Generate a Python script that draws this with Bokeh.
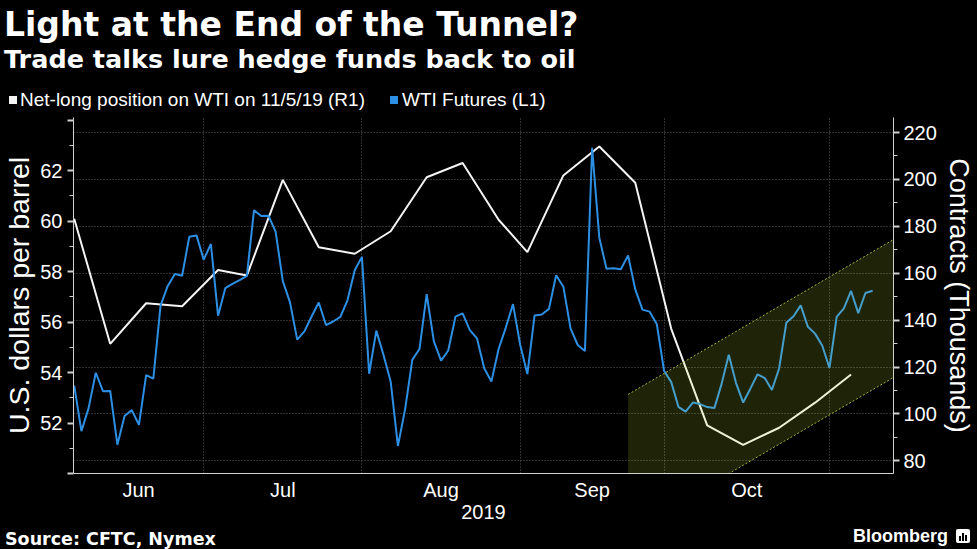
import pandas as pd
from bokeh.plotting import figure
from bokeh.layouts import column
from bokeh.models import Range1d, LinearAxis, FixedTicker, Div
from bokeh.embed import file_html
from bokeh.resources import INLINE

# ---------------- data ----------------
wti_start = "2019-06-04"
wti_end = "2019-11-08"
market_holidays = ["2019-07-04", "2019-09-02"]

# WTI front-month futures, daily close (USD/bbl), one value per trading day
wti_close = [
    53.48, 51.68, 52.59, 53.99, 53.26, 53.27, 51.14, 52.28, 52.51, 51.93,
    53.90, 53.76, 56.65, 57.43, 57.90, 57.83, 59.38, 59.43, 58.47,
    59.09, 56.25, 57.34, 57.51, 57.66, 57.83, 60.43, 60.20, 60.21, 59.58,
    57.62, 56.78, 55.30, 55.63, 56.22, 56.77, 55.88, 56.02, 56.20, 56.87,
    58.05, 58.58,
    53.95, 55.66, 54.69, 53.63, 51.09, 52.54, 54.50, 54.93, 57.10, 55.23,
    54.47, 54.87, 56.21, 56.34, 55.68, 55.35, 54.17, 53.64, 54.93, 55.78,
    56.71, 55.10,
    53.94, 56.26, 56.30, 56.52, 57.85, 57.40, 55.75, 55.09, 54.85, 62.90,
    59.34, 58.11, 58.13, 58.09, 58.64, 57.29, 56.49, 56.41, 55.91, 54.07,
    53.62, 52.64, 52.45, 52.81, 52.75, 52.63, 52.59, 53.55, 54.70, 53.59,
    52.81, 53.36, 53.93, 53.78, 53.31, 54.16, 55.97, 56.23, 56.66, 55.81,
    55.54, 55.06, 54.18,
    56.20, 56.54, 57.23, 56.35, 57.15, 57.24,
]

# CFTC weekly net-long position (thousands of contracts)
cftc_dates = [
    "2019-06-04", "2019-06-11", "2019-06-18", "2019-06-25", "2019-07-02",
    "2019-07-09", "2019-07-16", "2019-07-23", "2019-07-30", "2019-08-06",
    "2019-08-13", "2019-08-20", "2019-08-27", "2019-09-03", "2019-09-10",
    "2019-09-17", "2019-09-24", "2019-10-01", "2019-10-08", "2019-10-15",
    "2019-10-22", "2019-10-29", "2019-11-05",
]
net_long_k = [
    183.2, 129.9, 147.2, 145.9, 161.4, 159.0, 199.8, 171.1, 168.3, 177.9,
    200.9, 207.0, 182.8, 169.0, 201.7, 214.0, 198.6, 136.3, 95.1, 86.8,
    94.1, 104.8, 116.8,
]

month_names = ["Jun", "Jul", "Aug", "Sep", "Oct"]
usd_ticks = [50, 52, 54, 56, 58, 60, 62, 64]
usd_minor = [51, 53, 55, 57, 59, 61, 63]
contract_ticks = [80, 100, 120, 140, 160, 180, 200, 220]
contract_minor = [90, 110, 130, 150, 170, 190, 210]

# highlighted up-trend channel (trading-day index, thousands of contracts)
channel_x = [77, 116]
channel_lower = [49.5, 119.3]
channel_upper = [108.3, 178.1]

title_text = "Light at the End of the Tunnel?"
subtitle_text = "Trade talks lure hedge funds back to oil"
legend_texts = ["Net-long position on WTI on 11/5/19 (R1)", "WTI Futures (L1)"]
source_text = "Source: CFTC, Nymex"
brand_text = "Bloomberg"

# ---------------- derived positions ----------------
days = [d for d in pd.bdate_range(wti_start, wti_end)
        if d.strftime("%Y-%m-%d") not in market_holidays]
pos = {d.strftime("%Y-%m-%d"): i for i, d in enumerate(days)}
wti_x = list(range(len(wti_close)))
cftc_x = [pos[d] for d in cftc_dates]
month_end = [i for i in range(len(days) - 1) if days[i].month != days[i + 1].month]

X0, X1 = -0.1, 113.9
bounds = [X0] + month_end
month_centers = [(bounds[i] + bounds[i + 1]) / 2 for i in range(len(month_names))]

W, H = 977, 549
HEAD_H = 117
FOOT_H = 22
MAIN_H = H - HEAD_H - FOOT_H
FRAME_BOTTOM = 473

WHITE = "#f4f4f4"
BLUE = "#2d8fe3"
AX_COL = "#d0d0d0"

# ---------------- header & footer ----------------
def span(left, baseline, text, size, family, ascent, weight="normal", color="#ffffff"):
    top = baseline - ascent * size
    return (f'<span style="position:absolute;left:{left}px;top:{top:.1f}px;'
            f'font-family:\'{family}\';font-size:{size}px;font-weight:{weight};'
            f'line-height:normal;white-space:nowrap;color:{color}">{text}</span>')

def box(left, top, w, h, color, radius=0):
    return (f'<span style="position:absolute;left:{left}px;top:{top}px;width:{w}px;'
            f'height:{h}px;background:{color};border-radius:{radius}px"></span>')

DJ, LIB = 0.928, 0.905
head_html = (
    f'<div style="position:relative;width:{W}px;height:{HEAD_H}px;background:#000;overflow:hidden">'
    + span(4, 36, title_text, 33, "DejaVu Sans", DJ, "bold")
    + span(4, 68, subtitle_text, 25.5, "DejaVu Sans", DJ, "bold")
    + box(9, 96, 8, 8, WHITE)
    + span(20, 106, legend_texts[0], 19, "Liberation Sans", LIB)
    + box(390, 96, 8, 8, BLUE)
    + span(402, 106, legend_texts[1], 19, "Liberation Sans", LIB)
    + '</div>'
)
y0 = HEAD_H + MAIN_H
foot_html = (
    f'<div style="position:relative;width:{W}px;height:{FOOT_H}px;background:#000;overflow:visible">'
    + span(5, 545 - y0, source_text, 17.5, "DejaVu Sans", DJ, "bold")
    + span(853, 542 - y0, brand_text, 18, "Liberation Sans", LIB, "bold")
    + box(956, 529 - y0, 14, 14, "#ffffff", 2)
    + box(959, 536 - y0, 2, 5, "#000000")
    + box(962, 533 - y0, 2, 8, "#000000")
    + box(965, 535 - y0, 2, 6, "#000000")
    + '</div>'
)
head = Div(text=head_html, width=W, height=HEAD_H, margin=0,
           styles={"background-color": "black"})
foot = Div(text=foot_html, width=W, height=FOOT_H, margin=0,
           styles={"background-color": "black"})

# ---------------- main chart ----------------
p = figure(width=W, height=MAIN_H, output_backend="svg", toolbar_location=None,
           x_range=Range1d(X0, X1), y_range=Range1d(74.6, 226.4),
           y_axis_location="right",
           min_border_left=71, min_border_right=84,
           min_border_top=0, min_border_bottom=MAIN_H - (FRAME_BOTTOM - HEAD_H),
           background_fill_color="black", border_fill_color="black",
           outline_line_color=None)
p.extra_y_ranges = {"usd": Range1d(50, 64.1)}

def style_axis(ax):
    ax.axis_line_color = AX_COL
    ax.major_tick_line_color = AX_COL
    ax.minor_tick_line_color = AX_COL
    ax.major_label_text_color = "white"
    ax.major_label_text_font = "Liberation Sans"
    ax.major_label_text_font_size = "20px"
    ax.axis_label_text_color = "white"
    ax.axis_label_text_font = "Liberation Sans"
    ax.axis_label_text_font_style = "normal"
    ax.axis_label_text_font_size = "27px"

ra = p.yaxis[0]
style_axis(ra)
ra.ticker = FixedTicker(ticks=contract_ticks, minor_ticks=contract_minor)
ra.major_tick_out = 6
ra.major_tick_in = 0
ra.major_tick_line_width = 2
ra.minor_tick_out = 4
ra.minor_tick_in = 0
ra.major_label_standoff = 4
ra.axis_label = "Contracts (Thousands)"
ra.axis_label_standoff = 4

la = LinearAxis(y_range_name="usd")
style_axis(la)
la.ticker = FixedTicker(ticks=usd_ticks, minor_ticks=usd_minor)
la.major_label_overrides = {50: "", 64: ""}
la.major_tick_out = 6
la.major_tick_in = 0
la.major_tick_line_width = 2
la.minor_tick_out = 4
la.minor_tick_in = 0
la.major_label_standoff = 5
la.axis_label = "U.S. dollars per barrel"
la.axis_label_text_font_size = "28.5px"
la.axis_label_standoff = 2
p.add_layout(la, "left")

xa = p.xaxis[0]
style_axis(xa)
xa.ticker = FixedTicker(ticks=month_centers, minor_ticks=[])
xa.major_label_overrides = {c: m for c, m in zip(month_centers, month_names)}
xa.major_tick_out = 0
xa.major_tick_in = 0
xa.major_label_standoff = 5
xa.axis_label = "2019"
xa.axis_label_text_font_size = "20px"
xa.axis_label_standoff = 1

p.xgrid.ticker = FixedTicker(ticks=month_end)
p.ygrid.ticker = FixedTicker(ticks=contract_ticks)
for g in (p.xgrid, p.ygrid):
    g.grid_line_color = "#5e5e5e"
    g.grid_line_dash = "1 2"
    g.grid_line_width = 1

# series
p.line(cftc_x, net_long_k, line_color=WHITE, line_width=2)
p.line(wti_x, wti_close, y_range_name="usd", line_color=BLUE, line_width=2)

# channel (semi-transparent, drawn over the lines)
p.varea(x=channel_x, y1=channel_lower, y2=channel_upper,
        fill_color="#d2f03a", fill_alpha=0.15)
for edge in (channel_lower, channel_upper):
    p.line(channel_x, edge, line_color="#9fb83a", line_dash="2 2", line_width=1)

layout = column(head, p, foot, spacing=0, styles={"background-color": "black"})
open("out.html", "w").write(file_html(layout, INLINE))
